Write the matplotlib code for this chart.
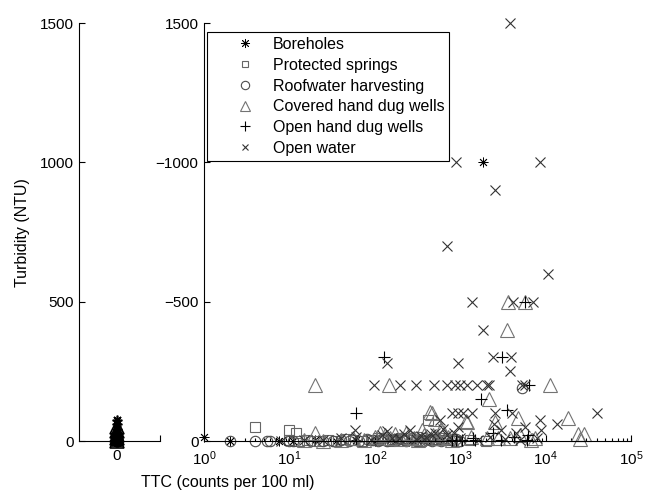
import matplotlib
matplotlib.use('Agg')
from matplotlib import pyplot as plt
from matplotlib.ticker import LogLocator, NullFormatter

plt.rcParams['font.family'] = ['Liberation Sans', 'DejaVu Sans']
plt.rcParams['mathtext.fontset'] = 'custom'
plt.rcParams['mathtext.rm'] = 'Liberation Sans'

# TTC (counts per 100 ml) and turbidity (NTU) per source type
bh_ttc = [1, 2, 7.5, 1860, 11, 20, 35, 60, 100, 150, 250, 400, 600, 180, 320]
bh_ntu = [15, 0, 0, 1000, 0, 2, 0, 5, 0, 3, 0, 5, 2, 8, 4]

ps_ttc = [4, 10, 12, 420, 10, 13, 16, 22, 28, 35, 45, 55, 70, 90, 120, 150, 200, 280, 350, 500,
          700, 900, 1300, 2000, 110, 170, 240, 310, 430, 620]
ps_ntu = [50, 40, 30, 75, 5, 0, 2, 0, 5, 0, 8, 2, 0, 5, 3, 0, 10, 5, 0, 8,
          2, 0, 5, 0, 12, 6, 3, 15, 2, 10]

rw_ttc = [2, 4, 5.5, 6, 5300, 10, 11, 18, 25, 32, 40, 50, 65, 80, 110, 140, 180, 230, 300, 380,
          470, 600, 800, 1000, 95, 125, 160, 210, 270, 340, 420, 540, 700, 900]
rw_ntu = [0, 0, 0, 0, 190, 0, 0, 0, 0, 0, 5, 0, 0, 8, 0, 0, 5, 0, 0, 10,
          0, 0, 5, 0, 3, 10, 2, 6, 12, 4, 8, 3, 10, 6]

cw_ttc = [3650, 5700, 3550, 11200, 147, 20, 2180, 470, 510, 1170, 2550, 4800, 18300, 24000, 28000,
          7500, 445, 1200, 20, 15, 25, 40, 55, 75, 100, 130, 170, 200, 260, 320, 380, 550, 650,
          800, 1340, 2050, 2800, 3800, 5000, 6800, 25000, 115, 150, 230, 290, 360, 480, 600, 720]
cw_ntu = [500, 500, 400, 200, 200, 200, 150, 100, 80, 72, 68, 82, 82, 25, 25,
          10, 104, 68, 30, 5, 0, 3, 10, 5, 15, 20, 25, 8, 15, 5, 20, 10, 30,
          5, 14, 10, 10, 10, 20, 5, 8, 30, 10, 28, 12, 40, 20, 45, 15]

ow_ttc = [5700, 3100, 128, 6400, 1750, 3550, 60, 6200, 2400, 800, 900, 1050, 1420, 1500, 3000, 4200, 6000]
ow_ntu = [500, 300, 300, 200, 150, 111, 100, 22, 29, 5, 5, 3, 10, 2, 5, 14, 3]

wa_ttc = [3830, 895, 8600, 2550, 700, 10700, 1380, 4150, 7100, 1860, 2400, 3900, 940, 3800, 139,
          98, 197, 302, 490, 708, 870, 1000, 1200, 1550, 2050, 2150, 5300, 5800,
          800, 940, 1380, 2550, 4050, 40000, 1070,
          8500, 13500, 8900, 5700, 580, 59, 950, 2500, 3000, 4500,
          8, 15, 25, 40, 60, 90, 120, 160, 220, 300, 400, 500, 700, 1000, 1600, 2200, 3300, 5000, 8000,
          140, 190, 260, 350, 450, 620, 850]
wa_ntu = [1500, 1000, 1000, 900, 700, 600, 500, 500, 500, 400, 300, 300, 280, 250, 280,
          200, 200, 200, 200, 200, 200, 200, 200, 200, 200, 200, 200, 200,
          100, 100, 100, 100, 100, 100, 100,
          75, 61, 40, 50, 75, 40, 50, 60, 40, 30,
          0, 2, 5, 10, 15, 5, 20, 10, 25, 8, 15, 30, 20, 10, 5, 15, 8, 5, 10,
          35, 12, 40, 18, 25, 45, 30]

# samples with TTC = 0 (left panel)
bh0 = [0, 5, 10, 20, 30, 45, 60, 75]
ps0 = [0, 3, 8]
rw0 = [0, 0, 2, 5]
cw0 = [0, 10, 20, 35, 50]
ow0 = [0, 10]
wa0 = [0, 5, 15]

labels = ['Boreholes', 'Protected springs', 'Roofwater harvesting',
          'Covered hand dug wells', 'Open hand dug wells', 'Open water']

styles = [
    dict(marker=(8, 2, 0), color='black', ms=7, leg_ms=6.5, lw=0.6),
    dict(marker='s', color='0.4', ms=7, leg_ms=5, lw=0.8),
    dict(marker='o', color='0.3', ms=7.5, leg_ms=6, lw=0.8),
    dict(marker='^', color='0.45', ms=10, leg_ms=7, lw=0.8),
    dict(marker='+', color='black', ms=8, leg_ms=6.5, lw=0.8),
    dict(marker='x', color='0.2', ms=6.5, leg_ms=4.5, lw=0.8),
]

right_data = [(bh_ttc, bh_ntu), (ps_ttc, ps_ntu), (rw_ttc, rw_ntu),
              (cw_ttc, cw_ntu), (ow_ttc, ow_ntu), (wa_ttc, wa_ntu)]
left_data = [bh0, ps0, rw0, cw0, ow0, wa0]

fig = plt.figure(figsize=(6.55, 4.95), dpi=100)
ax0 = fig.add_axes([0.1206, 0.109, 0.1237, 0.8444])
ax1 = fig.add_axes([0.3115, 0.109, 0.652, 0.8444])

for (xs, ys), st, lab in zip(right_data, styles, labels):
    ax1.plot(xs, ys, linestyle='none', marker=st['marker'], markersize=st['ms'],
             markerfacecolor='none', markeredgecolor=st['color'], markeredgewidth=st['lw'],
             label=lab, clip_on=False)

for ys, st in zip(left_data, styles):
    ax0.plot([0] * len(ys), ys, linestyle='none', marker=st['marker'], markersize=st['ms'],
             markerfacecolor='none', markeredgecolor='black', markeredgewidth=1.2,
             clip_on=False)

for ax in (ax0, ax1):
    ax.set_ylim(0, 1500)
    ax.set_yticks([0, 500, 1000, 1500])
    ax.spines['top'].set_visible(False)
    ax.spines['right'].set_visible(False)
    ax.spines['left'].set_linewidth(0.8)
    ax.spines['bottom'].set_linewidth(0.8)
    ax.tick_params(direction='in', length=4, width=0.8, labelsize=11, pad=4)
    ax.tick_params(axis='x', pad=6)
    ax.patch.set_alpha(0)

ax0.set_xlim(-0.47, 0.53)
ax0.set_xticks([0, 0.53])
ax0.set_xticklabels(['0', ''])
ax0.set_yticklabels(['0', '500', '1000', '1500'])

ax1.set_xscale('log')
ax1.set_xlim(1, 1e5)
ax1.xaxis.set_major_locator(LogLocator(base=10, numticks=10))
ax1.xaxis.set_minor_locator(LogLocator(base=10, subs=range(2, 10), numticks=20))
ax1.xaxis.set_minor_formatter(NullFormatter())
ax1.tick_params(axis='x', which='minor', direction='in', length=2.5, width=0.8)
ax1.set_yticklabels(['0', '\u2212500', '\u22121000', '1500'])

leg = ax1.legend(loc='upper left', bbox_to_anchor=(0.007, 0.978), borderaxespad=0,
                 fontsize=11.5, handlelength=4.15, handletextpad=-0.33,
                 borderpad=0.3, labelspacing=0.36, fancybox=False, framealpha=1,
                 edgecolor='black')
leg.get_frame().set_linewidth(0.8)
for h, st in zip(leg.legend_handles, styles):
    h.set_markersize(st['leg_ms'])

fig.text(0.348, 0.026, 'TTC (counts per 100 ml)', ha='center', va='center', fontsize=11.5)
fig.text(0.034, 0.531, 'Turbidity (NTU)', ha='center', va='center', rotation=90, fontsize=11.5)

fig.savefig('out.png', dpi=100)
